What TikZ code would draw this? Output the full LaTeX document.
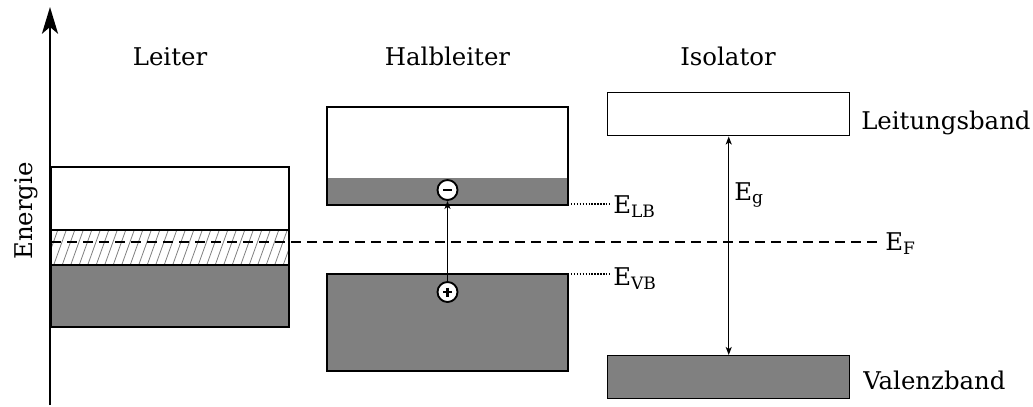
\documentclass[tikz,border=0pt]{standalone}
\usepackage{fontspec}
\setmainfont{DejaVu Serif}
\usetikzlibrary{arrows.meta}
\definecolor{bandgray}{RGB}{128,128,128}
\begin{document}
\begin{tikzpicture}[x=0.75pt,y=-0.75pt,
  font=\fontsize{18.3}{21}\selectfont,
  bandline/.style={draw=black, line width=1.1pt},
  filled/.style={fill=bandgray},
  lbl/.style={inner sep=0pt, anchor=base west},
  ttl/.style={inner sep=0pt, anchor=base},
  charge/.style={circle, draw=black, fill=white, line width=1.4pt, minimum size=15pt, inner sep=0pt},
  sign/.style={line width=2.1pt},
  conn/.style={line width=0.9pt},
  guide/.style={line width=0.8pt, dash pattern=on 1pt off 1.2pt},
  fermi/.style={line width=1.5pt, dash pattern=on 7.5pt off 4.5pt},
  axisline/.style={line width=2.2pt, -{Stealth[length=20pt,width=12pt,inset=5pt]}}]
\useasboundingbox (0,0) rectangle (1033,407);
% axis
\coordinate (ab) at (50,405);
\coordinate (at) at (50,7);
\draw[axisline] (ab) -- (at);
\node[ttl, rotate=90] (energie) at (32,211) {Energie};
% titles
\node[ttl] (tleiter) at (170,65) {Leiter};
\node[ttl] (thalb) at (447.5,65) {Halbleiter};
\node[ttl] (tiso) at (728,65) {Isolator};
% Leiter
\draw[bandline] (51,167) rectangle (289,230);
\begin{scope}
  \clip (51,230) rectangle (289,265);
  \foreach \i in {0,...,32} \draw[gray, line width=0.6pt] (36+\i*8.5,267) -- ++(14,-39);
\end{scope}
\draw[bandline] (51,230) rectangle (289,265);
\draw[bandline, filled] (51,265) rectangle (289,327);
% Halbleiter
\fill[bandgray] (327,178) rectangle (568,205);
\draw[bandline] (327,107) rectangle (568,205);
\draw[bandline, filled] (327,274) rectangle (568,371);
\coordinate (lbr) at (568,204);
\coordinate (vbr) at (568,274);
\coordinate (lbl) at (611,204);
\coordinate (vbl) at (611,274);
\draw[guide] (lbr) -- (lbl);
\draw[guide] (vbr) -- (vbl);
\node[lbl] (elb) at (613,213) {E\textsubscript{LB}};
\node[lbl] (evb) at (613,285) {E\textsubscript{VB}};
\node[charge] (minus) at (447.5,190) {};
\node[charge] (plus) at (447.5,292) {};
\draw[sign] (443,190) -- (452,190);
\draw[sign] (443,292) -- (452,292) (447.5,287.5) -- (447.5,296.5);
\draw[conn, -{Stealth[length=6pt,width=4.5pt,inset=1.5pt]}] (plus) -- (minus);
% Isolator
\node[bandline, anchor=north west, minimum width=181.5pt, minimum height=32.25pt, inner sep=0pt] (ilb) at (607,92) {};
\node[bandline, filled, anchor=north west, minimum width=181.5pt, minimum height=32.25pt, inner sep=0pt] (ivb) at (607,355) {};
\draw[conn, {Stealth[length=6pt,width=4.5pt,inset=1.5pt]}-{Stealth[length=6pt,width=4.5pt,inset=1.5pt]}] (ilb.south) -- (ivb.north);
\node[lbl] (eg) at (734,200) {E\textsubscript{g}};
\node[lbl] (lband) at (861,129) {Leitungsband};
\node[lbl] (vband) at (863,389) {Valenzband};
% Fermi level
\coordinate (fs) at (51,242);
\coordinate (fe) at (877,242);
\draw[fermi] (fs) -- (fe);
\node[lbl] (ef) at (885,250) {E\textsubscript{F}};
\end{tikzpicture}
\end{document}
